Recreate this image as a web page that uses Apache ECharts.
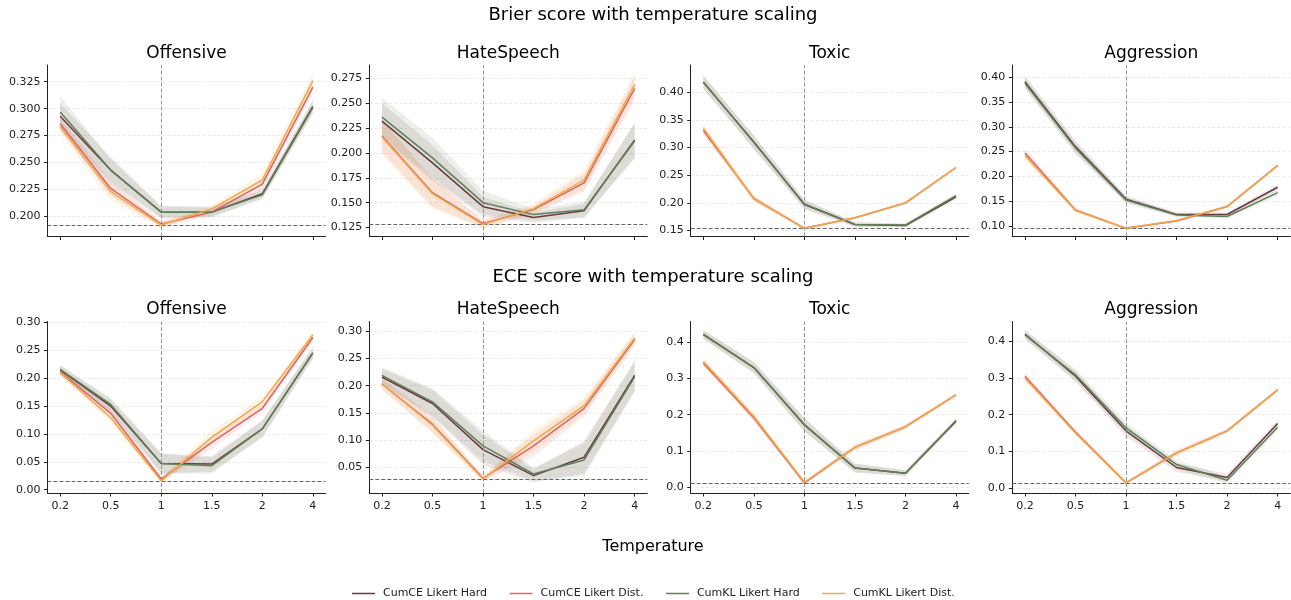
<!DOCTYPE html>
<html>
<head>
<meta charset="utf-8">
<script src="https://cdn.jsdelivr.net/npm/echarts@6/dist/echarts.min.js"></script>
<style>html,body{margin:0;padding:0;background:#fff}#chart{width:1291px;height:600px}</style>
</head>
<body>
<div id="chart"></div>
<script>
// ---------- data ----------
const categories = ['0.2', '0.5', '1', '1.5', '2', '4'];
const seriesNames = ['CumCE Likert Hard', 'CumCE Likert Dist.', 'CumKL Likert Hard', 'CumKL Likert Dist.'];
const datasetNames = ['Offensive', 'HateSpeech', 'Toxic', 'Aggression'];
const rowTitles = ['Brier score with temperature scaling', 'ECE score with temperature scaling'];
const xAxisName = 'Temperature';

// Brier score (rows: CumCE Hard, CumCE Dist., CumKL Hard, CumKL Dist.)
const brierOffensive = [
  [0.293, 0.243, 0.204, 0.204, 0.221, 0.302],
  [0.286, 0.226, 0.193, 0.204, 0.230, 0.320],
  [0.297, 0.243, 0.204, 0.204, 0.220, 0.301],
  [0.283, 0.223, 0.192, 0.207, 0.234, 0.326]
];
const brierOffensiveSd = [
  [0.012, 0.012, 0.006, 0.005, 0.004, 0.006],
  [0.005, 0.007, 0.003, 0.003, 0.005, 0.006],
  [0.015, 0.010, 0.005, 0.004, 0.004, 0.006],
  [0.006, 0.008, 0.003, 0.003, 0.006, 0.007]
];
const brierHateSpeech = [
  [0.232, 0.190, 0.146, 0.135, 0.142, 0.213],
  [0.217, 0.160, 0.129, 0.143, 0.170, 0.265],
  [0.236, 0.195, 0.150, 0.138, 0.143, 0.212],
  [0.216, 0.159, 0.128, 0.144, 0.173, 0.269]
];
const brierHateSpeechSd = [
  [0.018, 0.018, 0.010, 0.005, 0.007, 0.017],
  [0.016, 0.014, 0.004, 0.004, 0.009, 0.012],
  [0.020, 0.020, 0.012, 0.006, 0.008, 0.018],
  [0.018, 0.015, 0.004, 0.005, 0.010, 0.012]
];
const brierToxic = [
  [0.418, 0.310, 0.197, 0.161, 0.159, 0.211],
  [0.331, 0.208, 0.154, 0.173, 0.200, 0.264],
  [0.419, 0.309, 0.198, 0.161, 0.160, 0.213],
  [0.335, 0.207, 0.154, 0.173, 0.200, 0.264]
];
const brierToxicSd = [
  [0.012, 0.012, 0.008, 0.004, 0.003, 0.004],
  [0.008, 0.005, 0.002, 0.002, 0.003, 0.002],
  [0.012, 0.012, 0.008, 0.004, 0.003, 0.004],
  [0.008, 0.005, 0.002, 0.002, 0.003, 0.002]
];
const brierAggression = [
  [0.391, 0.260, 0.154, 0.123, 0.123, 0.178],
  [0.247, 0.132, 0.095, 0.110, 0.139, 0.222],
  [0.388, 0.257, 0.152, 0.122, 0.119, 0.167],
  [0.242, 0.131, 0.095, 0.111, 0.139, 0.222]
];
const brierAggressionSd = [
  [0.012, 0.012, 0.007, 0.004, 0.004, 0.006],
  [0.010, 0.004, 0.002, 0.002, 0.003, 0.002],
  [0.012, 0.012, 0.007, 0.004, 0.004, 0.006],
  [0.010, 0.004, 0.002, 0.002, 0.003, 0.002]
];

// ECE score
const eceOffensive = [
  [0.215, 0.150, 0.047, 0.046, 0.109, 0.245],
  [0.212, 0.137, 0.019, 0.085, 0.146, 0.273],
  [0.216, 0.153, 0.047, 0.043, 0.109, 0.246],
  [0.210, 0.129, 0.016, 0.094, 0.158, 0.278]
];
const eceOffensiveSd = [
  [0.008, 0.012, 0.018, 0.014, 0.015, 0.010],
  [0.006, 0.008, 0.005, 0.012, 0.008, 0.006],
  [0.008, 0.012, 0.018, 0.014, 0.015, 0.010],
  [0.006, 0.008, 0.005, 0.012, 0.008, 0.006]
];
const eceHateSpeech = [
  [0.216, 0.167, 0.082, 0.034, 0.068, 0.219],
  [0.203, 0.129, 0.029, 0.089, 0.158, 0.285],
  [0.219, 0.170, 0.089, 0.037, 0.063, 0.216],
  [0.203, 0.127, 0.028, 0.098, 0.163, 0.288]
];
const eceHateSpeechSd = [
  [0.015, 0.025, 0.028, 0.012, 0.030, 0.028],
  [0.010, 0.015, 0.005, 0.020, 0.015, 0.012],
  [0.015, 0.025, 0.028, 0.012, 0.030, 0.028],
  [0.010, 0.015, 0.005, 0.020, 0.015, 0.012]
];
const eceToxic = [
  [0.421, 0.330, 0.172, 0.053, 0.039, 0.182],
  [0.342, 0.191, 0.012, 0.110, 0.167, 0.255],
  [0.422, 0.330, 0.173, 0.053, 0.039, 0.184],
  [0.347, 0.195, 0.014, 0.110, 0.167, 0.255]
];
const eceToxicSd = [
  [0.012, 0.015, 0.018, 0.012, 0.008, 0.006],
  [0.010, 0.010, 0.005, 0.008, 0.006, 0.004],
  [0.012, 0.015, 0.018, 0.012, 0.008, 0.006],
  [0.010, 0.010, 0.005, 0.008, 0.006, 0.004]
];
const eceAggression = [
  [0.420, 0.305, 0.156, 0.056, 0.029, 0.176],
  [0.305, 0.153, 0.014, 0.096, 0.156, 0.268],
  [0.418, 0.309, 0.164, 0.064, 0.021, 0.166],
  [0.300, 0.150, 0.014, 0.096, 0.156, 0.268]
];
const eceAggressionSd = [
  [0.012, 0.015, 0.015, 0.012, 0.010, 0.010],
  [0.010, 0.006, 0.004, 0.008, 0.005, 0.004],
  [0.012, 0.015, 0.015, 0.012, 0.010, 0.010],
  [0.010, 0.006, 0.004, 0.008, 0.005, 0.004]
];

// reference (best) values: horizontal dashed lines
const brierRef = [0.1923, 0.1283, 0.1536, 0.0953];
const eceRef = [0.0151, 0.0280, 0.0119, 0.0136];

// y tick labels per panel
const brierTicks = [
  [0.200, 0.225, 0.250, 0.275, 0.300, 0.325],
  [0.125, 0.150, 0.175, 0.200, 0.225, 0.250, 0.275],
  [0.15, 0.20, 0.25, 0.30, 0.35, 0.40],
  [0.10, 0.15, 0.20, 0.25, 0.30, 0.35, 0.40]
];
const eceTicks = [
  [0.00, 0.05, 0.10, 0.15, 0.20, 0.25, 0.30],
  [0.05, 0.10, 0.15, 0.20, 0.25, 0.30],
  [0.0, 0.1, 0.2, 0.3, 0.4],
  [0.0, 0.1, 0.2, 0.3, 0.4]
];
const brierDecimals = [3, 3, 2, 2];
const eceDecimals = [2, 2, 1, 1];

// ---------- layout / style ----------
const yRanges = [
  [0.1814, 0.3405], [0.116, 0.2884], [0.1392, 0.4494], [0.0785, 0.4249],
  [-0.006, 0.3018], [0.002, 0.3183], [-0.0156, 0.4569], [-0.0136, 0.4545]
];
const lineColors = ['#6b3a3e', '#dc6461', '#5f8058', '#f0a848'];
const bandColors = ['rgba(107,58,62,0.12)', 'rgba(220,100,97,0.12)', 'rgba(95,128,88,0.12)', 'rgba(240,168,72,0.13)'];
const gridLefts = [47.5, 369.3, 690.7, 1012.3];
const gridWidth = 278;
const rowTops = [65, 321.5];
const rowHeight = 171.5;
const FONT = 'DejaVu Sans';

const panels = [
  { vals: brierOffensive, sd: brierOffensiveSd },
  { vals: brierHateSpeech, sd: brierHateSpeechSd },
  { vals: brierToxic, sd: brierToxicSd },
  { vals: brierAggression, sd: brierAggressionSd },
  { vals: eceOffensive, sd: eceOffensiveSd },
  { vals: eceHateSpeech, sd: eceHateSpeechSd },
  { vals: eceToxic, sd: eceToxicSd },
  { vals: eceAggression, sd: eceAggressionSd }
];

const grids = [], xAxes = [], yAxes = [], series = [], titles = [];

titles.push({ text: rowTitles[0], left: 653, top: 6, textAlign: 'center', padding: 0,
  textStyle: { fontFamily: FONT, fontSize: 18, fontWeight: 'normal', color: '#000' } });
titles.push({ text: rowTitles[1], left: 653, top: 268, textAlign: 'center', padding: 0,
  textStyle: { fontFamily: FONT, fontSize: 18, fontWeight: 'normal', color: '#000' } });
titles.push({ text: xAxisName, left: 653, top: 539, textAlign: 'center', padding: 0,
  textStyle: { fontFamily: FONT, fontSize: 16, fontWeight: 'normal', color: '#000' } });

const axisLineStyle = { color: '#222', width: 1 };

panels.forEach((p, k) => {
  const row = k < 4 ? 0 : 1;
  const col = k % 4;
  const ticks = row === 0 ? brierTicks[col] : eceTicks[col];
  const dec = row === 0 ? brierDecimals[col] : eceDecimals[col];
  const ref = row === 0 ? brierRef[col] : eceRef[col];
  grids.push({ left: gridLefts[col], top: rowTops[row], width: gridWidth, height: rowHeight, containLabel: false });
  titles.push({ text: datasetNames[col], left: gridLefts[col] + gridWidth / 2, top: rowTops[row] - 20,
    textAlign: 'center', padding: 0,
    textStyle: { fontFamily: FONT, fontSize: 17, fontWeight: 'normal', color: '#000' } });
  xAxes.push({
    type: 'value', gridIndex: k, min: -0.25, max: 5.25,
    axisLine: { show: true, onZero: false, lineStyle: axisLineStyle },
    axisTick: { show: true, length: 3.5, lineStyle: axisLineStyle, customValues: [0, 1, 2, 3, 4, 5] },
    axisLabel: { show: row === 1, customValues: [0, 1, 2, 3, 4, 5], margin: 8,
      formatter: v => categories[Math.round(v)], fontFamily: FONT, fontSize: 11, color: '#222' },
    splitLine: { show: false }
  });
  yAxes.push({
    type: 'value', gridIndex: k, min: yRanges[k][0], max: yRanges[k][1],
    axisLine: { show: true, onZero: false, lineStyle: axisLineStyle },
    axisTick: { show: true, length: 3.5, lineStyle: axisLineStyle, customValues: ticks },
    axisLabel: { customValues: ticks, margin: 7, formatter: v => v.toFixed(dec),
      fontFamily: FONT, fontSize: 11, color: '#222' },
    splitLine: { show: true, lineStyle: { color: '#e3e3e3', width: 0.8, type: [3, 2] } }
  });

  // bands
  p.vals.forEach((vals, s) => {
    const color = bandColors[s];
    series.push({
      type: 'custom', xAxisIndex: k, yAxisIndex: k, silent: true, z: 1,
      encode: { x: 0, y: [1, 2] },
      data: vals.map((v, i) => [i, v - p.sd[s][i], v + p.sd[s][i]]),
      renderItem: (params, api) => {
        if (params.dataIndexInside !== 0) return null;
        const n = params.dataInsideLength;
        const up = [], lo = [];
        for (let i = 0; i < n; i++) {
          up.push(api.coord([api.value(0, i), api.value(2, i)]));
          lo.push(api.coord([api.value(0, i), api.value(1, i)]));
        }
        return { type: 'polygon', shape: { points: up.concat(lo.reverse()) }, style: { fill: color } };
      }
    });
  });
  // lines
  p.vals.forEach((vals, s) => {
    const ser = {
      name: seriesNames[s], type: 'line', xAxisIndex: k, yAxisIndex: k, z: 3 + s,
      data: vals.map((v, i) => [i, v]),
      showSymbol: false, symbol: 'none',
      lineStyle: { color: lineColors[s], width: 1.5 },
      itemStyle: { color: lineColors[s] },
      emphasis: { disabled: true }
    };
    if (s === 0) {
      ser.markLine = {
        silent: true, symbol: 'none', label: { show: false }, animation: false, precision: 5,
        data: [
          { xAxis: 2, lineStyle: { color: '#8a8a8a', width: 0.9, type: [4, 2] } },
          { yAxis: ref, lineStyle: { color: '#666', width: 1, type: [4, 2] } }
        ]
      };
    }
    series.push(ser);
  });
});

const chart = echarts.init(document.getElementById('chart'), null, { renderer: 'canvas' });
chart.setOption({
  animation: false,
  backgroundColor: '#fff',
  title: titles,
  grid: grids,
  xAxis: xAxes,
  yAxis: yAxes,
  legend: {
    data: seriesNames, top: 588, left: 352, padding: 0, icon: 'rect', itemWidth: 23, itemHeight: 1.5, itemGap: 22.5,
    textStyle: { fontFamily: FONT, fontSize: 11, color: '#222', padding: [0, 0, 0, 3] }, selectedMode: false
  },
  series: series
});
</script>
</body>
</html>
